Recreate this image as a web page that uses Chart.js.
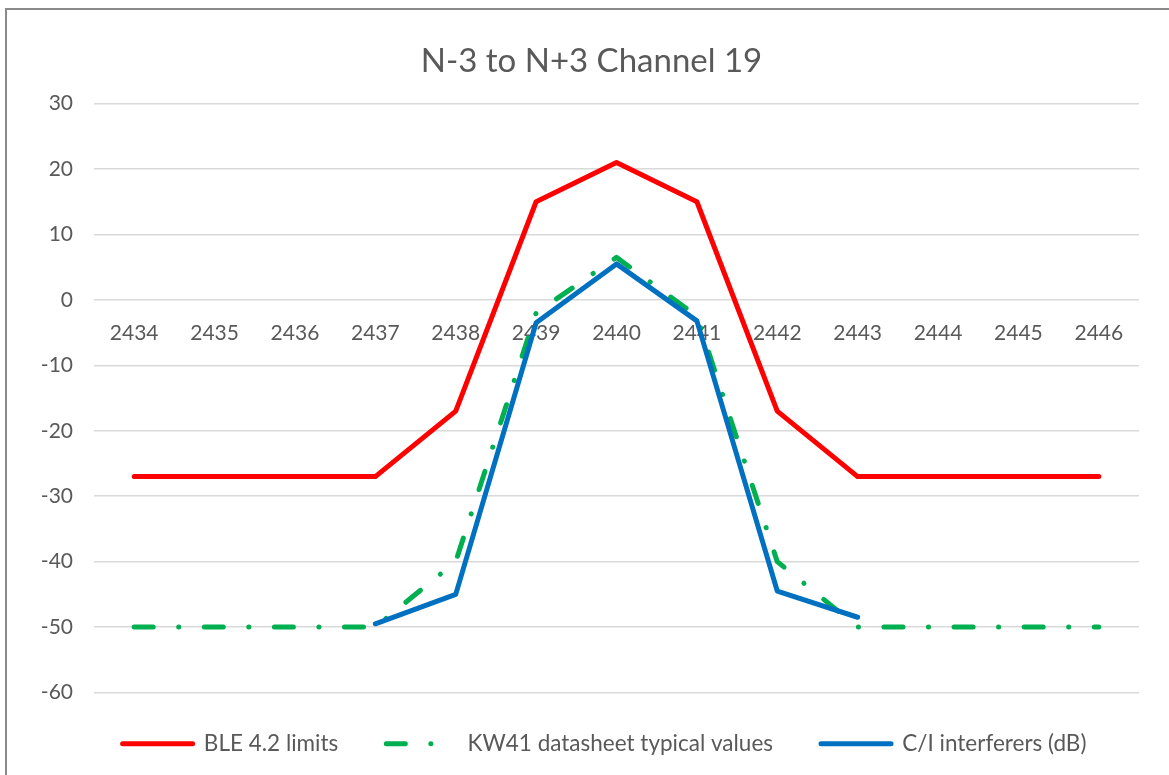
<!DOCTYPE html>
<html>
<head>
<meta charset="utf-8">
<script src="https://cdn.jsdelivr.net/npm/chart.js@4/dist/chart.umd.min.js"></script>
<style>
    body { margin: 0; background: #fff; }
    #wrap { position: relative; width: 1169px; height: 775px; overflow: hidden; }
    #frame { position: absolute; left: 5px; top: 8px; width: 1300px; height: 900px;
             border-left: 2px solid #8a8a8a; border-top: 2px solid #8a8a8a; pointer-events: none; }
</style>
</head>
<body>
<div id="wrap">
    <canvas id="chart" width="1169" height="775"></canvas>
    <div id="frame"></div>
</div>
<script>
// channels (MHz)
const channels = ['2434', '2435', '2436', '2437', '2438', '2439', '2440', '2441', '2442', '2443', '2444', '2445', '2446'];

// BLE 4.2 limits
const bleLimits = [-27, -27, -27, -27, -17, 15, 21, 15, -17, -27, -27, -27, -27];

// KW41 datasheet typical values
const kw41Typical = [-50, -50, -50, -50, -40, -2, 6.5, -2.5, -40, -50, -50, -50, -50];

// C/I interferers (dB), measured only from 2437 to 2443
const ciInterferers = [null, null, null, -49.5, -45, -3.5, 5.5, -3.2, -44.5, -48.5, null, null, null];

const yTicks = { min: -60, max: 30, step: 10 };

const titleText = 'N-3 to N+3 Channel 19';

const grey = '#595959';
const fontFamily = 'Lato, "Open Sans", sans-serif';

// nudge title and legend so they sit where Excel put them
const boxShift = {
    id: 'boxShift',
    afterLayout(chart) {
        const t = chart.titleBlock;
        t.left += 22; t.right += 22;
        const lg = chart.legend;
        lg.left += 35; lg.right += 35;
        lg.top -= 8; lg.bottom -= 8;
    }
};

const ctx = document.getElementById('chart').getContext('2d');

new Chart(ctx, {
    type: 'line',
    data: {
        labels: channels,
        datasets: [{
            label: 'BLE 4.2 limits',
            data: bleLimits,
            borderColor: '#ff0000',
            backgroundColor: '#ff0000',
            borderWidth: 5,
            borderCapStyle: 'round',
            borderJoinStyle: 'round',
            pointRadius: 0,
            tension: 0,
            order: 2
        }, {
            label: 'KW41 datasheet typical values',
            data: kw41Typical,
            borderColor: '#00b050',
            backgroundColor: '#00b050',
            borderWidth: 5,
            borderDash: [19, 25.5, 0.1, 25.5],
            borderCapStyle: 'round',
            borderJoinStyle: 'round',
            pointRadius: 0,
            tension: 0,
            order: 1
        }, {
            label: 'C/I interferers (dB)',
            data: ciInterferers,
            borderColor: '#0070c0',
            backgroundColor: '#0070c0',
            borderWidth: 5,
            borderCapStyle: 'round',
            borderJoinStyle: 'round',
            pointRadius: 0,
            tension: 0,
            spanGaps: false,
            order: 0
        }]
    },
    plugins: [boxShift],
    options: {
        responsive: false,
        animation: false,
        layout: {
            padding: { left: 0, right: 30, top: 0, bottom: 2 }
        },
        plugins: {
            title: {
                display: true,
                text: titleText,
                color: grey,
                font: { family: fontFamily, size: 33, weight: 'normal' },
                padding: { top: 42, bottom: 22 }
            },
            legend: {
                position: 'bottom',
                labels: {
                    color: grey,
                    font: { family: fontFamily, size: 22.5 },
                    usePointStyle: true,
                    pointStyle: 'line',
                    pointStyleWidth: 70,
                    boxHeight: 5,
                    padding: 48,
                    sort: (a, b) => a.datasetIndex - b.datasetIndex,
                    generateLabels: function (chart) {
                        const items = Chart.defaults.plugins.legend.labels.generateLabels(chart);
                        items.forEach(item => {
                            const ds = chart.data.datasets[item.datasetIndex];
                            item.lineDash = ds.borderDash || [];
                            item.lineWidth = ds.borderWidth;
                            item.lineCap = 'round';
                            item.strokeStyle = ds.borderColor;
                            item.pointStyle = 'line';
                        });
                        return items;
                    }
                }
            },
            tooltip: { enabled: false }
        },
        scales: {
            x: {
                position: { y: 0 },
                offset: true,
                grid: { display: false },
                border: { display: false },
                ticks: {
                    color: grey,
                    font: { family: fontFamily, size: 21 },
                    padding: 13,
                    maxRotation: 0,
                    autoSkip: false
                }
            },
            y: {
                min: yTicks.min,
                max: yTicks.max,
                afterFit: function (scale) {
                    scale.width = 94;
                },
                grid: { color: '#d9d9d9', lineWidth: 1.5, drawTicks: false },
                border: { display: false },
                ticks: {
                    stepSize: yTicks.step,
                    color: grey,
                    font: { family: fontFamily, size: 21 },
                    padding: 21
                }
            }
        }
    }
});
</script>
</body>
</html>
